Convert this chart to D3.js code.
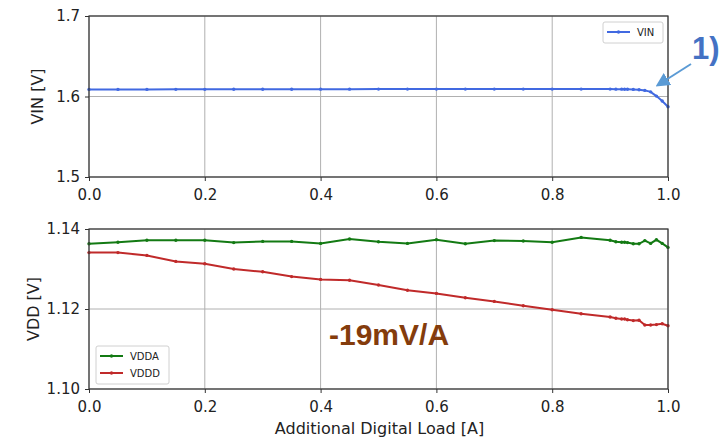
<!DOCTYPE html>
<html>
<head>
<meta charset="utf-8">
<script src="https://cdn.jsdelivr.net/npm/d3@7"></script>
<style>
  body { margin: 0; background: #fff; }
  text { font-family: "DejaVu Sans", sans-serif; }
</style>
</head>
<body>
<svg id="chart" width="726" height="438"></svg>
<script>
const loads = [0, 0.05, 0.1, 0.15, 0.2, 0.25, 0.3, 0.35, 0.4, 0.45, 0.5, 0.55, 0.6, 0.65, 0.7, 0.75, 0.8, 0.85,
  0.9, 0.91, 0.92, 0.925, 0.93, 0.94, 0.95, 0.96, 0.97, 0.98, 0.99, 1.0];
const vin = [1.6088, 1.6088, 1.6088, 1.6089, 1.6089, 1.6090, 1.6090, 1.6090, 1.6091, 1.6091, 1.6092, 1.6092, 1.6092,
  1.6092, 1.6092, 1.6092, 1.6092, 1.6092, 1.6092, 1.6091, 1.6091, 1.6090, 1.6090, 1.6088, 1.6084, 1.6076, 1.6058,
  1.6005, 1.5945, 1.5872];
const vdda = [1.1363, 1.1367, 1.1372, 1.1372, 1.1372, 1.1366, 1.1369, 1.1369, 1.1364, 1.1375, 1.1368, 1.1364, 1.1373,
  1.1363, 1.1371, 1.1370, 1.1367, 1.1379, 1.1372, 1.1368, 1.1367, 1.1367, 1.1366, 1.1363, 1.1363, 1.1371, 1.1364,
  1.1373, 1.1364, 1.1354];
const vddd = [1.1341, 1.1341, 1.1334, 1.1319, 1.1313, 1.1300, 1.1293, 1.1281, 1.1274, 1.1272, 1.1260, 1.1247, 1.1239,
  1.1228, 1.1219, 1.1208, 1.1198, 1.1188, 1.1180, 1.1177, 1.1175, 1.1175, 1.1173, 1.1171, 1.1172, 1.1160, 1.1160,
  1.1161, 1.1163, 1.1158];
const xTicks = [0, 0.2, 0.4, 0.6, 0.8, 1.0];
const vinTicks = [1.5, 1.6, 1.7];
const vddTicks = [1.10, 1.12, 1.14];

const svg = d3.select("#chart");
const left = 89, right = 668;

const x = d3.scaleLinear().domain([0, 1]).range([left, right]);
const yTop = d3.scaleLinear().domain([1.5, 1.7]).range([177, 16]);
const yBot = d3.scaleLinear().domain([1.10, 1.14]).range([389, 229]);

function drawPanel(y, yTicks, yFmt, series, yLabel, labelX) {
  const [y0, y1] = y.range();
  const g = svg.append("g");

  // grid
  g.append("g").selectAll("line").data(xTicks).join("line")
    .attr("x1", (d) => x(d)).attr("x2", (d) => x(d))
    .attr("y1", y1).attr("y2", y0)
    .attr("stroke", "#b0b0b0").attr("stroke-width", 1);
  g.append("g").selectAll("line").data(yTicks).join("line")
    .attr("x1", left).attr("x2", right)
    .attr("y1", (d) => y(d)).attr("y2", (d) => y(d))
    .attr("stroke", "#b0b0b0").attr("stroke-width", 1);

  // series
  const line = d3.line().x((d) => x(d[0])).y((d) => y(d[1]));
  series.forEach((s) => {
    const pts = loads.map((l, i) => [l, s.values[i]]);
    g.append("path").datum(pts)
      .attr("d", line).attr("fill", "none")
      .attr("stroke", s.color).attr("stroke-width", 2);
    g.append("g").selectAll("circle").data(pts).join("circle")
      .attr("cx", (d) => x(d[0])).attr("cy", (d) => y(d[1]))
      .attr("r", 1.7).attr("fill", s.color);
  });

  // frame
  g.append("rect")
    .attr("x", left).attr("y", y1)
    .attr("width", right - left).attr("height", y0 - y1)
    .attr("fill", "none").attr("stroke", "#333").attr("stroke-width", 1.2);

  // axes
  const xa = g.append("g").attr("transform", `translate(0,${y0})`)
    .call(d3.axisBottom(x).tickValues(xTicks).tickFormat(d3.format(".1f")).tickSize(4).tickPadding(8));
  const ya = g.append("g").attr("transform", `translate(${left},0)`)
    .call(d3.axisLeft(y).tickValues(yTicks).tickFormat(yFmt).tickSize(4).tickPadding(5));
  [xa, ya].forEach((a) => {
    a.select(".domain").remove();
    a.selectAll("line").attr("stroke", "#333");
    a.selectAll("text").attr("fill", "#222").style("font-size", "15px");
  });

  g.append("text")
    .attr("transform", `translate(${labelX},${(y0 + y1) / 2}) rotate(-90)`)
    .attr("text-anchor", "middle")
    .attr("fill", "#222").style("font-size", "16px")
    .text(yLabel);
}

drawPanel(yTop, vinTicks, d3.format(".1f"), [{ values: vin, color: "#4169e1" }], "VIN [V]", 43);
drawPanel(yBot, vddTicks, d3.format(".2f"),
  [{ values: vdda, color: "#137a13" }, { values: vddd, color: "#c02a2a" }], "VDD [V]", 39);

svg.append("text")
  .attr("x", (left + right) / 2 + 1).attr("y", 434)
  .attr("text-anchor", "middle").attr("fill", "#222")
  .style("font-size", "16px")
  .text("Additional Digital Load [A]");

// legends
function legend(xPos, yPos, w, items) {
  const g = svg.append("g").attr("transform", `translate(${xPos},${yPos})`);
  g.append("rect").attr("width", w).attr("height", items.length * 17 + 4)
    .attr("rx", 2).attr("fill", "#fff").attr("fill-opacity", 0.85)
    .attr("stroke", "#d0d0d0");
  items.forEach((it, i) => {
    const cy = 10 + i * 17;
    g.append("line").attr("x1", 4).attr("x2", 27).attr("y1", cy).attr("y2", cy)
      .attr("stroke", it.color).attr("stroke-width", 2);
    g.append("circle").attr("cx", 15.5).attr("cy", cy).attr("r", 1.7).attr("fill", it.color);
    g.append("text").attr("x", 34).attr("y", cy + 3.5)
      .attr("fill", "#222").style("font-size", "10px").text(it.label);
  });
}
legend(603, 22, 60, [{ label: "VIN", color: "#4169e1" }]);
legend(96, 346, 73, [{ label: "VDDA", color: "#137a13" }, { label: "VDDD", color: "#c02a2a" }]);

// annotations
svg.append("defs").append("marker")
  .attr("id", "arrow").attr("viewBox", "0 0 10 10")
  .attr("refX", 8).attr("refY", 5)
  .attr("markerWidth", 7).attr("markerHeight", 7)
  .attr("orient", "auto")
  .append("path").attr("d", "M0,0 L10,5 L0,10 z").attr("fill", "#5b9bd5");
svg.append("line")
  .attr("x1", 691).attr("y1", 64).attr("x2", 658).attr("y2", 85)
  .attr("stroke", "#5b9bd5").attr("stroke-width", 2)
  .attr("marker-end", "url(#arrow)");
svg.append("text")
  .attr("x", 692).attr("y", 59)
  .attr("fill", "#4472c4").style("font-family", "'Liberation Sans', sans-serif")
  .style("font-weight", "bold").style("font-size", "31px")
  .text("1)");
svg.append("text")
  .attr("x", 329).attr("y", 345)
  .attr("fill", "#843c0c").style("font-family", "'Liberation Sans', sans-serif")
  .style("font-weight", "bold").style("font-size", "30px")
  .text("-19mV/A");
</script>
</body>
</html>
